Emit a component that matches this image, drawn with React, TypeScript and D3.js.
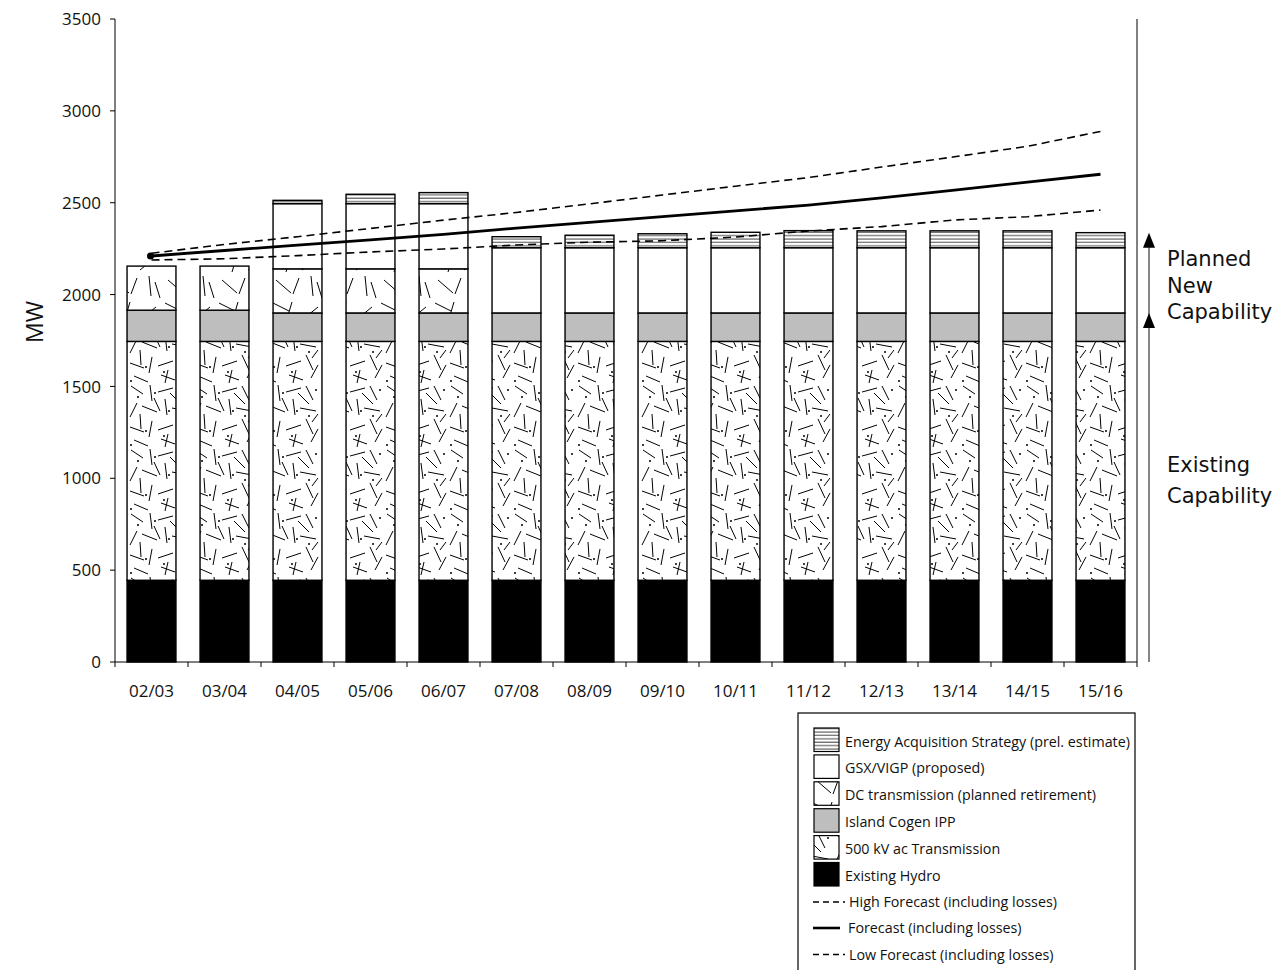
import React from 'react';
import * as d3 from 'd3';

const categories = ['02/03', '03/04', '04/05', '05/06', '06/07', '07/08', '08/09', '09/10', '10/11', '11/12', '12/13', '13/14', '14/15', '15/16'];
const existingHydro = [445, 445, 445, 445, 445, 445, 445, 445, 445, 445, 445, 445, 445, 445];
const ac500Transmission = [1300, 1300, 1300, 1300, 1300, 1300, 1300, 1300, 1300, 1300, 1300, 1300, 1300, 1300];
const islandCogen = [170, 170, 155, 155, 155, 155, 155, 155, 155, 155, 155, 155, 155, 155];
const dcTransmission = [240, 240, 240, 240, 240, 0, 0, 0, 0, 0, 0, 0, 0, 0];
const gsxVigp = [0, 0, 355, 355, 355, 355, 355, 355, 355, 355, 355, 355, 355, 355];
const energyAcquisition = [0, 0, 18, 51, 60, 60, 68, 76, 84, 93, 92, 92, 92, 82];
const forecast = [2210, 2240, 2269, 2298, 2328, 2362, 2393, 2424, 2456, 2487, 2526, 2569, 2612, 2655];
const highForecast = [2225, 2273, 2315, 2360, 2405, 2447, 2494, 2542, 2590, 2637, 2694, 2750, 2807, 2888];
const lowForecast = [2188, 2195, 2212, 2232, 2248, 2270, 2285, 2293, 2313, 2346, 2370, 2406, 2424, 2460];
const yTicks = [0, 500, 1000, 1500, 2000, 2500, 3000, 3500];

const seriesKeys = ['hydro', 'ac500', 'cogen', 'dc', 'gsx', 'eas'];
const seriesFill: Record<string, string> = {
  hydro: '#000',
  ac500: 'url(#pat500)',
  cogen: '#bebebe',
  dc: 'url(#patDC)',
  gsx: '#fff',
  eas: 'url(#patEAS)',
};

// decorative pattern strokes (not data)
const P500_SEGS = [
  [3, 2, 15, 10], [22, 1, 24, 17], [30, 8, 45, 4], [50, 2, 57, 16],
  [9, 19, 2, 33], [14, 22, 29, 28], [37, 15, 39, 31], [44, 24, 60, 27],
  [2, 43, 16, 48], [24, 37, 21, 53], [30, 46, 45, 41], [50, 35, 57, 50],
  [6, 56, 20, 62], [33, 55, 47, 60], [55, 58, 62, 45], [12, 30, 13, 45],
  [42, 9, 53, 20], [26, 14, 32, 27], [40, 50, 37, 63], [62, 30, 56, 38],
];
const P500_DOTS = [[10, 13], [27, 9], [41, 27], [53, 32], [18, 47], [36, 52], [3, 61], [60, 6]];
const PDC_SEGS = [
  [3, 3, 19, 11], [22, 2, 16, 22], [32, 20, 48, 7], [41, 26, 43, 46],
  [6, 30, 21, 43], [23, 44, 29, 28], [47, 32, 52, 48],
];

const FONT = '"Open Sans", "DejaVu Sans", sans-serif';
const SIDE_FONT = '"DejaVu Sans", sans-serif';

export default function App() {
  const W = 1277;
  const H = 970;
  const x = d3.scaleBand<string>().domain(categories).range([115, 1137]).paddingInner(0.33).paddingOuter(0.165);
  const y = d3.scaleLinear().domain([0, 3500]).range([662, 19]);
  const step = x.step();
  const cx = (c: string) => (x(c) as number) + x.bandwidth() / 2;

  const table = categories.map((c, i) => ({
    cat: c,
    hydro: existingHydro[i],
    ac500: ac500Transmission[i],
    cogen: islandCogen[i],
    dc: dcTransmission[i],
    gsx: gsxVigp[i],
    eas: energyAcquisition[i],
  }));
  const stacked = d3.stack<any>().keys(seriesKeys)(table);

  const line = d3.line<number>().x((_, i) => cx(categories[i])).y((d) => y(d));

  const boundaries = d3.range(categories.length + 1).map((i) => 115 + i * step);

  const lastIdx = categories.length - 1;
  const topLast = stacked[stacked.length - 1][lastIdx][1];
  const cogenTop = stacked[2][lastIdx][1];
  const arrowX = 1149;

  const legendItems = [
    { label: 'Energy Acquisition Strategy (prel. estimate)', fill: 'url(#patEAS)' },
    { label: 'GSX/VIGP (proposed)', fill: '#fff' },
    { label: 'DC transmission (planned retirement)', fill: 'url(#patDC)' },
    { label: 'Island Cogen IPP', fill: '#bebebe' },
    { label: '500 kV ac Transmission', fill: 'url(#pat500)' },
    { label: 'Existing Hydro', fill: '#000' },
  ];
  const legendLines = [
    { label: 'High Forecast (including losses)', dash: '6,4', w: 1.3, y: 902 },
    { label: 'Forecast (including losses)', dash: null, w: 2.6, y: 928 },
    { label: 'Low Forecast (including losses)', dash: '6,4', w: 1.3, y: 954.5 },
  ];

  return (
    <svg width={W} height={H} style={{ position: 'absolute', left: 0, top: 0, background: '#fff' }} fontFamily={FONT}>
      <defs>
        <pattern id="pat500" patternUnits="userSpaceOnUse" width={64} height={64}>
          <rect width={64} height={64} fill="#fff" />
          {P500_SEGS.map((s, i) => (
            <line key={i} x1={s[0]} y1={s[1]} x2={s[2]} y2={s[3]} stroke="#000" strokeWidth={1} />
          ))}
          {P500_DOTS.map((d, i) => (
            <circle key={i} cx={d[0]} cy={d[1]} r={1} fill="#000" />
          ))}
        </pattern>
        <pattern id="patDC" patternUnits="userSpaceOnUse" width={54} height={50}>
          <rect width={54} height={50} fill="#fff" />
          {PDC_SEGS.map((s, i) => (
            <line key={i} x1={s[0]} y1={s[1]} x2={s[2]} y2={s[3]} stroke="#000" strokeWidth={1} />
          ))}
        </pattern>
        <pattern id="patEAS" patternUnits="userSpaceOnUse" width={10} height={3.4}>
          <rect width={10} height={3.4} fill="#fff" />
          <line x1={0} x2={10} y1={1} y2={1} stroke="#444" strokeWidth={1} />
        </pattern>
      </defs>

      {/* bars */}
      {stacked.map((layer) =>
        layer.map((d: any, i: number) => {
          const h = y(d[0]) - y(d[1]);
          if (h <= 0.01) return null;
          return (
            <rect
              key={layer.key + i}
              x={x(categories[i])}
              y={y(d[1])}
              width={x.bandwidth()}
              height={h}
              fill={seriesFill[layer.key]}
              stroke="#000"
              strokeWidth={1.4}
            />
          );
        })
      )}

      {/* axes */}
      <line x1={115} x2={115} y1={y(3500)} y2={y(0)} stroke="#000" strokeWidth={1} />
      {yTicks.map((t) => (
        <g key={t}>
          <line x1={110} x2={115} y1={y(t)} y2={y(t)} stroke="#000" />
          <text x={101} y={y(t)} dy="0.36em" textAnchor="end" fontSize={17} fill="#111">
            {t}
          </text>
        </g>
      ))}
      <line x1={115} x2={1137} y1={y(0)} y2={y(0)} stroke="#000" strokeWidth={1} />
      {boundaries.map((b, i) => (
        <line key={i} x1={b} x2={b} y1={y(0)} y2={y(0) + 5} stroke="#000" />
      ))}
      {categories.map((c) => (
        <text key={c} x={cx(c)} y={697} textAnchor="middle" fontSize={17} fill="#111">
          {c}
        </text>
      ))}
      <line x1={1137} x2={1137} y1={y(3500)} y2={y(0)} stroke="#000" strokeWidth={1} />
      <text transform={`translate(43,${322}) rotate(-90)`} textAnchor="middle" fontSize={23} fill="#111">
        MW
      </text>

      {/* forecast lines */}
      <path d={line(highForecast) || ''} fill="none" stroke="#000" strokeWidth={1.6} strokeDasharray="8,5" />
      <path d={line(lowForecast) || ''} fill="none" stroke="#000" strokeWidth={1.6} strokeDasharray="8,5" />
      <path d={line(forecast) || ''} fill="none" stroke="#000" strokeWidth={2.8} />
      <circle cx={cx(categories[0]) - 1} cy={y(forecast[0])} r={3.5} fill="#000" />

      {/* capability arrows */}
      <line x1={arrowX} x2={arrowX} y1={y(0)} y2={y(topLast) + 8} stroke="#444" strokeWidth={1.3} />
      <path d={`M${arrowX},${y(topLast)} L${arrowX - 6},${y(topLast) + 15} L${arrowX + 6},${y(topLast) + 15} Z`} fill="#000" />
      <path d={`M${arrowX},${y(cogenTop)} L${arrowX - 6},${y(cogenTop) + 15} L${arrowX + 6},${y(cogenTop) + 15} Z`} fill="#000" />
      <g fontSize={21} fill="#111" fontFamily={SIDE_FONT}>
        <text x={1167} y={266}>Planned</text>
        <text x={1167} y={292.5}>New</text>
        <text x={1167} y={319}>Capability</text>
        <text x={1167} y={472}>Existing</text>
        <text x={1167} y={503}>Capability</text>
      </g>

      {/* legend */}
      <rect x={798} y={713} width={337} height={280} fill="#fff" stroke="#000" strokeWidth={1.2} />
      {legendItems.map((it, i) => (
        <g key={it.label}>
          <rect x={814} y={728 + i * 26.9} width={25} height={23.5} fill={it.fill} stroke="#000" strokeWidth={1.2} />
          <text x={845} y={746.5 + i * 26.9} fontSize={14.3} fill="#111">
            {it.label}
          </text>
        </g>
      ))}
      {legendLines.map((it) => (
        <g key={it.label}>
          <line
            x1={813}
            x2={it.dash ? 845 : 840}
            y1={it.y}
            y2={it.y}
            stroke="#000"
            strokeWidth={it.w}
            strokeDasharray={it.dash || undefined}
          />
          <text x={it.dash ? 849 : 848} y={it.y + 5} fontSize={14.3} fill="#111">
            {it.label}
          </text>
        </g>
      ))}
    </svg>
  );
}
